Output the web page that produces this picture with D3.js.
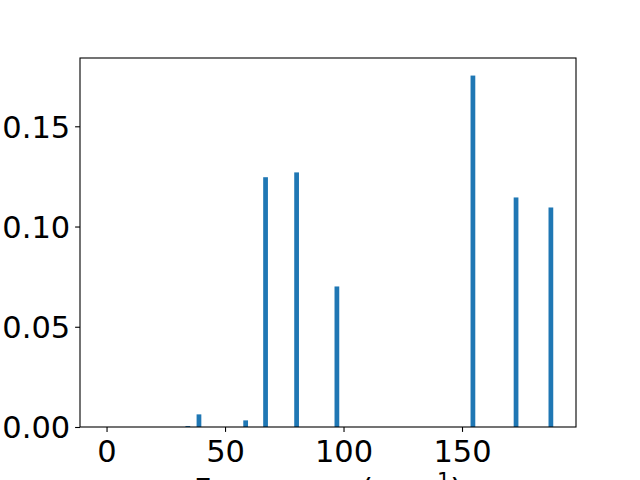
<!DOCTYPE html>
<html lang="en">
  <head>
    <meta charset="UTF-8" />
    <title>Frequency spectrum</title>
    <style>
      body { margin: 0; background: #fff; }
      svg { display: block; font-family: 'DejaVu Sans', sans-serif; }
    </style>
  </head>
  <body>
    <script src="https://d3js.org/d3.v7.min.js"></script>
    <script>
      // mode frequencies (cm^-1) and their intensities
      const frequencies = [34.3, 39.0, 58.7, 67.1, 80.2, 97.2, 154.6, 172.8, 187.5]
      const intensities = [0.0005, 0.0063, 0.0033, 0.1246, 0.1270, 0.0701, 0.1753, 0.1145, 0.1095]
      const xTicks = [0, 50, 100, 150]
      const yTicks = [0, 0.05, 0.1, 0.15]

      const width = 640
      const height = 480
      const padding = { top: 58, bottom: 53, left: 80, right: 64 }
      const barWidth = 2 // in data units
      const tickFont = 30.5

      const svg = d3.select('body').append('svg')
        .attr('width', width)
        .attr('height', height)

      const x = d3.scaleLinear()
        .domain([-11.2, 198.1])
        .range([padding.left, width - padding.right])

      const y = d3.scaleLinear()
        .domain([0, d3.max(intensities) * 1.05])
        .range([height - padding.bottom, padding.top])

      const data = frequencies.map((f, i) => ({ f, v: intensities[i] }))

      svg.append('g')
        .selectAll('rect')
        .data(data)
        .enter()
        .append('rect')
        .attr('fill', '#1f77b4')
        .attr('x', d => x(d.f - barWidth / 2))
        .attr('width', d => x(d.f + barWidth / 2) - x(d.f - barWidth / 2))
        .attr('y', d => y(d.v))
        .attr('height', d => y(0) - y(d.v))

      // frame
      svg.append('rect')
        .attr('x', padding.left)
        .attr('y', padding.top)
        .attr('width', width - padding.left - padding.right)
        .attr('height', height - padding.top - padding.bottom)
        .attr('fill', 'none')
        .attr('stroke', '#000')
        .attr('stroke-width', 1.1)

      const xAxis = g => g
        .attr('transform', `translate(0,${height - padding.bottom})`)
        .call(d3.axisBottom(x).tickValues(xTicks).tickSize(4.9).tickPadding(4.9).tickFormat(d3.format('d')))
        .call(g => g.select('.domain').remove())
        .call(g => g.selectAll('line').attr('stroke-width', 1.1))
        .call(g => g.selectAll('text').attr('font-size', tickFont).attr('fill', '#000').attr('dy', '0.82em'))

      const yAxis = g => g
        .attr('transform', `translate(${padding.left},0)`)
        .call(d3.axisLeft(y).tickValues(yTicks).tickSize(4.9).tickPadding(4.9).tickFormat(d3.format('.2f')))
        .call(g => g.select('.domain').remove())
        .call(g => g.selectAll('line').attr('stroke-width', 1.1))
        .call(g => g.selectAll('text').attr('font-size', tickFont).attr('fill', '#000').attr('dy', '0.36em'))

      svg.append('g').call(xAxis).attr('font-family', null)
      svg.append('g').call(yAxis).attr('font-family', null)

      // x label (cut off by the bottom edge, as in the original)
      const label = svg.append('text')
        .attr('x', (padding.left + width - padding.right) / 2)
        .attr('y', 500)
        .attr('text-anchor', 'middle')
        .attr('font-size', 30.5)
        .text('Frequency (cm')
      label.append('tspan')
        .attr('font-size', 21)
        .attr('dy', -12)
        .text('\u22121')
      label.append('tspan')
        .attr('dy', 12)
        .text(')')
    </script>
  </body>
</html>
